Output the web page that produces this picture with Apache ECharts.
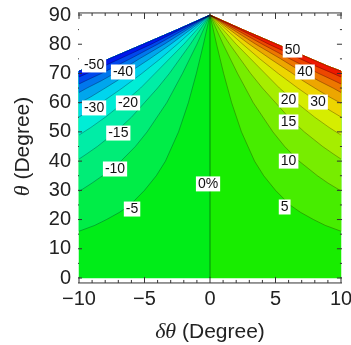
<!DOCTYPE html>
<html>
<head>
<meta charset="utf-8">
<script src="https://cdn.jsdelivr.net/npm/echarts@6/dist/echarts.min.js"></script>
<style>
  html, body { margin: 0; padding: 0; background: #fff; }
  #chart { width: 351px; height: 345px; }
</style>
</head>
<body>
<div id="chart"></div>
<script>
// contour levels in %, the 50 line is also the edge of the plotted region
const levels = [5, 10, 15, 20, 25, 30, 35, 40, 45, 50];

// contour lines [δθ, θ], from the side edge up to the apex
const rightLines = [
  [[10,16],[8.8,18],[7.9,20],[6.9,22.5],[6.1,25],[5,30],[4.1,35],[3.4,40],[2.4,50],[1.65,60],[1.04,70],[0.5,80],[0,90]],
  [[10,29.8],[9,32.5],[8.2,35],[7.5,37.5],[6.8,40],[5.7,45],[4.8,50],[3.3,60],[2.1,70],[1,80],[0,90]],
  [[10,40.7],[9.4,42.5],[8.6,45],[7.9,47.5],[7.2,50],[6,55],[5,60],[4,65],[3.1,70],[1.5,80],[0,90]],
  [[10,48.9],[9.1,51.5],[8,55],[7.3,57.5],[6.6,60],[5.3,65],[4.2,70],[3.1,75],[2,80],[0,90]],
  [[10,55.1],[9.1,57.5],[8.3,60],[7.5,62.5],[6.7,65],[5.2,70],[3.8,75],[2.5,80],[0,90]],
  [[10,59.8],[9.1,62],[8,65],[7.1,67.5],[6.3,70],[4.6,75],[3,80],[1.5,85],[0,90]],
  [[10,63.5],[9.4,65],[8.3,67.5],[7.3,70],[6.3,72.5],[5.4,75],[3.5,80],[1.75,85],[0,90]],
  [[10,66.4],[9.5,67.5],[8.3,70],[7.2,72.5],[6.1,75],[4,80],[2,85],[0,90]],
  [[10,68.8],[9.4,70],[8.1,72.5],[6.9,75],[4.5,80],[2.3,85],[0,90]],
  [[10,70.8],[9,72.5],[7.7,75],[5.1,80],[2.5,85],[0,90]]
];
const leftLines = [
  [[-10,16],[-8.8,18],[-7.9,20],[-6.9,22.5],[-6.1,25],[-5,30],[-4.1,35],[-3.4,40],[-2.4,50],[-1.65,60],[-1.04,70],[-0.5,80],[0,90]],
  [[-10,29.6],[-9,32.5],[-8.2,35],[-7.5,37.5],[-6.8,40],[-5.7,45],[-4.8,50],[-3.3,60],[-2.1,70],[-1,80],[0,90]],
  [[-10,40.7],[-9.4,42.5],[-8.6,45],[-7.9,47.5],[-7.2,50],[-6,55],[-5,60],[-4,65],[-3.1,70],[-1.5,80],[0,90]],
  [[-10,48.9],[-9.1,51.5],[-8,55],[-7.3,57.5],[-6.6,60],[-5.3,65],[-4.2,70],[-3.1,75],[-2,80],[0,90]],
  [[-10,55.1],[-9.1,57.5],[-8.3,60],[-7.5,62.5],[-6.7,65],[-5.2,70],[-3.8,75],[-2.5,80],[0,90]],
  [[-10,59.8],[-9.1,62],[-8,65],[-7.1,67.5],[-6.3,70],[-4.6,75],[-3,80],[-1.5,85],[0,90]],
  [[-10,63.5],[-9.4,65],[-8.3,67.5],[-7.3,70],[-6.3,72.5],[-5.4,75],[-3.5,80],[-1.75,85],[0,90]],
  [[-10,66.4],[-9.5,67.5],[-8.3,70],[-7.2,72.5],[-6.1,75],[-4,80],[-2,85],[0,90]],
  [[-10,68.8],[-9.4,70],[-8.1,72.5],[-6.9,75],[-4.5,80],[-2.3,85],[0,90]],
  [[-10,70.8],[-9,72.5],[-7.7,75],[-5.1,80],[-2.5,85],[0,90]]
];
const zeroLine = [[0,0],[0,90]];

// band fills, 0..5 up to 45..50 and -5..0 down to -50..-45
const rightColors = ['#18ed00','#47ed00','#77ed00','#a6ed00','#d6ed00','#edd500','#eda600','#ed7700','#ed4700','#ed1800'];
const leftColors  = ['#00ed18','#00ed47','#00ed77','#00eda6','#00edd6','#00d5ed','#00a6ed','#0077ed','#0047ed','#0018ed'];

// contour labels
const labelText = ['-50','-40','-30','-20','-15','-10','-5','0%','5','10','15','20','30','40','50'];
const labelPos = [[-8.85,72.9],[-6.64,70.5],[-8.85,58.2],[-6.26,59.9],[-7.0,49.6],[-7.25,37.3],[-5.95,23.6],
                  [-0.15,32.2],[5.7,24.3],[6.0,40.0],[6.0,53.4],[6.0,60.9],[8.25,60.2],[7.25,70.5],[6.3,78.0]];

// frame ticks
const xMajor = [-10, -5, 0, 5, 10];
const xMinor = [-9, -8, -7, -6, -4, -3, -2, -1, 1, 2, 3, 4, 6, 7, 8, 9];
const yMajor = [0, 10, 20, 30, 40, 50, 60, 70, 80, 90];
const yMinor = [5, 15, 25, 35, 45, 55, 65, 75, 85];

// frame sits a few px outside the data range (in axis units)
const frameX = [-10.23, 10.15];
const frameY = [-1.7, 90.7];

const chart = echarts.init(document.getElementById('chart'));

// filled regions, painted from the base upward so each one covers the previous
let polys = [];
let topR = rightLines[rightLines.length - 1], topL = leftLines[leftLines.length - 1];
polys.push({ pts: [[0,0],[10,0]].concat(topR), color: rightColors[0] });
polys.push({ pts: [[0,0],[-10,0]].concat(topL), color: leftColors[0] });
for (let k = 1; k < levels.length; k++) {
  polys.push({ pts: rightLines[k-1].concat(topR.slice(0, -1).reverse()), color: rightColors[k] });
  polys.push({ pts: leftLines[k-1].concat(topL.slice(0, -1).reverse()), color: leftColors[k] });
}

let series = [{
  type: 'custom',
  silent: true,
  z: 1,
  data: polys.map(() => [0, 0]),
  renderItem: function (params, api) {
    let p = polys[params.dataIndex];
    return {
      type: 'polygon',
      shape: { points: p.pts.map(pt => api.coord(pt)) },
      style: { fill: p.color, stroke: p.color, lineWidth: 0.5 }
    };
  }
}];

rightLines.concat(leftLines).forEach(line => {
  series.push({
    type: 'line', data: line, symbol: 'none', silent: true, z: 3,
    lineStyle: { color: 'rgba(0,0,0,0.28)', width: 1 }
  });
});
series.push({
  type: 'line', data: zeroLine, symbol: 'none', silent: true, z: 3,
  lineStyle: { color: 'rgba(0,60,0,0.55)', width: 1 }
});

// contour labels as white boxed text
series.push({
  type: 'custom',
  silent: true,
  z: 5,
  data: labelPos,
  renderItem: function (params, api) {
    let c = api.coord([api.value(0), api.value(1)]);
    return {
      type: 'text',
      x: c[0], y: c[1],
      style: {
        text: labelText[params.dataIndex],
        align: 'center', verticalAlign: 'middle',
        fill: '#111', fontSize: 14, fontFamily: 'Liberation Sans',
        backgroundColor: '#fff', padding: [1, 2, 0, 2]
      }
    };
  }
});

// frame box
const frameStyle = { type: 'line', symbol: 'none', silent: true, z: 8, clip: false,
                     lineStyle: { color: '#333', width: 1 } };
series.push(Object.assign({}, frameStyle, {
  data: [[frameX[0], frameY[0]], [frameX[1], frameY[0]], [frameX[1], frameY[1]],
         [frameX[0], frameY[1]], [frameX[0], frameY[0]]]
}));

// inward ticks on all four sides, each tick its own short line
const xLen = v => (xMajor.indexOf(v) >= 0 ? 2.05 : 1.03);   // 6 / 3 px in θ units
const yLen = v => (yMajor.indexOf(v) >= 0 ? 0.46 : 0.23);   // 6 / 3 px in δθ units
xMajor.concat(xMinor).forEach(v => {
  series.push(Object.assign({}, frameStyle, { data: [[v, frameY[0]], [v, frameY[0] + xLen(v)]] }));
  series.push(Object.assign({}, frameStyle, { data: [[v, frameY[1]], [v, frameY[1] - xLen(v)]] }));
});
yMajor.concat(yMinor).forEach(v => {
  series.push(Object.assign({}, frameStyle, { data: [[frameX[0], v], [frameX[0] + yLen(v), v]] }));
  series.push(Object.assign({}, frameStyle, { data: [[frameX[1], v], [frameX[1] - yLen(v), v]] }));
});

const tickFmt = v => v < 0 ? '\u2212' + (-v) : String(v);
const nameStyle = {
  fontSize: 21, color: '#222', fontFamily: 'Liberation Sans',
  rich: { i: { fontSize: 22, fontStyle: 'italic', fontFamily: 'Liberation Serif', color: '#222' } }
};

chart.setOption({
  animation: false,
  grid: { left: 79, right: 10, top: 15, bottom: 67, outerBoundsMode: 'none', containLabel: false },
  xAxis: {
    type: 'value', min: -10, max: 10, interval: 5, position: 'bottom', offset: 5,
    name: '{i|δθ} (Degree)', nameLocation: 'middle', nameGap: 38,
    nameTextStyle: nameStyle,
    axisLine: { show: false },
    axisTick: { show: false },
    splitLine: { show: false },
    axisLabel: { formatter: tickFmt, fontSize: 20, color: '#222', fontFamily: 'Liberation Sans', margin: 6 }
  },
  yAxis: {
    type: 'value', min: 0, max: 90, interval: 10, position: 'left', offset: 3,
    name: '{i|θ} (Degree)', nameLocation: 'middle', nameGap: 42,
    nameTextStyle: nameStyle,
    axisLine: { show: false },
    axisTick: { show: false },
    splitLine: { show: false },
    axisLabel: { fontSize: 20, color: '#222', fontFamily: 'Liberation Sans', margin: 5 }
  },
  series: series
});
</script>
</body>
</html>
